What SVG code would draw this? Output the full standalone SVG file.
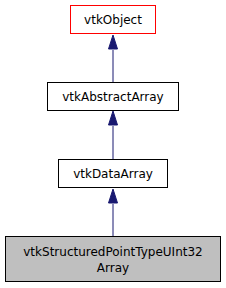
<svg xmlns="http://www.w3.org/2000/svg" width="226" height="288" viewBox="0 0 226 288">
<style>
.node rect{stroke-width:1}
text{font-family:"DejaVu Sans",sans-serif;font-size:12px;text-anchor:middle;fill:#000}
.edge line{stroke:#191970;stroke-width:1}
.edge polygon{fill:#191970;stroke:#191970}
</style>
<rect width="226" height="288" fill="#fff"/>
<g id="connectors" class="edge">
<line x1="113" y1="50" x2="113" y2="82"/>
<polygon points="113,35 108.5,49 117.5,49"/>
<line x1="113" y1="126" x2="113" y2="159"/>
<polygon points="113,111 108.5,125 117.5,125"/>
<line x1="113" y1="204" x2="113" y2="236"/>
<polygon points="113,189 108.5,203 117.5,203"/>
</g>
<g id="vtkObject" class="node">
<rect x="70.5" y="5.5" width="85" height="28" fill="#fff" stroke="#ff0000"/>
<text x="113" y="24">vtkObject</text>
</g>
<g id="vtkAbstractArray" class="node">
<rect x="47.5" y="82.5" width="131" height="28" fill="#fff" stroke="#000"/>
<text x="113" y="101">vtkAbstractArray</text>
</g>
<g id="vtkDataArray" class="node">
<rect x="58.5" y="159.5" width="109" height="28" fill="#fff" stroke="#000"/>
<text x="113" y="178">vtkDataArray</text>
</g>
<g id="vtkStructuredPointTypeUInt32Array" class="node">
<rect x="5.5" y="236.5" width="215" height="45" fill="#bfbfbf" stroke="#000"/>
<text x="113" y="256">vtkStructuredPointTypeUInt32</text>
<text x="113" y="272">Array</text>
</g>
</svg>
